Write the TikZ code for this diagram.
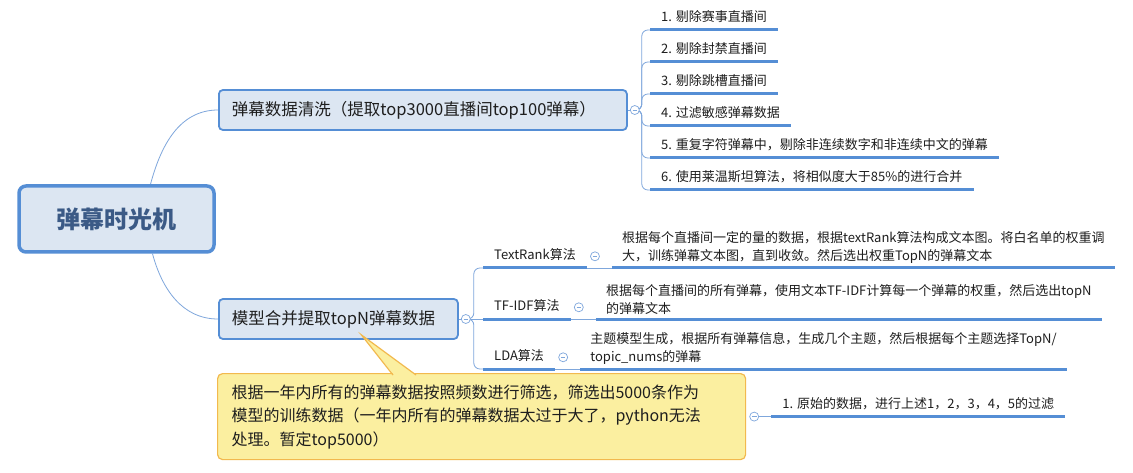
\documentclass[tikz,border=0pt]{standalone}
\usepackage{fontspec}
\setmainfont{Noto Sans CJK SC}
\usepackage{xcolor}
\usetikzlibrary{calc, positioning, backgrounds}

\definecolor{lineBlue}{HTML}{558ED5}
\definecolor{linkBlue}{HTML}{7FA7DC}
\definecolor{boxFill}{HTML}{DCE6F2}
\definecolor{rootText}{HTML}{3B5A86}
\definecolor{textDark}{HTML}{1E1E1E}
\definecolor{noteFill}{HTML}{FBEFA0}
\definecolor{noteEdge}{HTML}{F2B94E}

\tikzset{
  rootbox/.style={draw=lineBlue, line width=3.5pt, fill=boxFill, rounded corners=7pt,
    minimum width=195pt, minimum height=66pt, text=rootText,
    font=\fontsize{24}{28}\selectfont\bfseries},
  mainbox/.style={draw=lineBlue, line width=1.8pt, fill=boxFill, rounded corners=4pt,
    minimum height=40pt, inner xsep=13pt, align=left, text=textDark,
    font=\fontsize{16.5}{20}\selectfont},
  leaf/.style={anchor=south west, inner xsep=11pt, inner ysep=5pt, text height=10pt,
    text depth=3pt, text=textDark, font=\fontsize{13}{18.5}\selectfont},
  detail/.style={inner xsep=10pt, inner ysep=4pt, align=left, text=textDark,
    font=\fontsize{13}{18.5}\selectfont},
  notebox/.style={draw=noteEdge, line width=1.2pt, fill=noteFill, rounded corners=5pt,
    text width=500pt, minimum height=86pt, inner xsep=14pt, align=left, text=textDark,
    font=\fontsize{16}{23.5}\selectfont},
  underline/.style={draw=lineBlue, line width=3pt},
  link/.style={draw=linkBlue, line width=0.8pt},
  fold/.style={circle, draw=linkBlue, line width=0.7pt, fill=white, minimum size=9pt,
    inner sep=0pt, path picture={\draw[linkBlue, line width=0.7pt]
      ([xshift=-2.3pt]path picture bounding box.center) --
      ([xshift=2.3pt]path picture bounding box.center);}}
}

\begin{document}
\begin{tikzpicture}[x=1pt, y=-1pt]
  \useasboundingbox (0,0) rectangle (1133,473);

  % centre topic
  \node[rootbox] (root) at (116.5,219) {弹幕时光机};

  % main topics
  \node[mainbox, text width=382pt, anchor=west] (clean) at (218,110)
    {弹幕数据清洗（提取top3000直播间top100弹幕）};
  \node[mainbox, text width=213pt, anchor=west] (merge) at (218,319)
    {模型合并提取topN弹幕数据};
  \node[fold] (cleanfold) at ($(clean.east)+(7,0)$) {};
  \node[fold] (mergefold) at ($(merge.east)+(7,0)$) {};

  % cleaning steps
  \node[leaf] (stepA) at (650,30) {1. 剔除赛事直播间};
  \node[leaf] (stepB) at (650,62) {2. 剔除封禁直播间};
  \node[leaf] (stepC) at (650,94) {3. 剔除跳槽直播间};
  \node[leaf] (stepD) at (650,126) {4. 过滤敏感弹幕数据};
  \node[leaf] (stepE) at (650,158) {5. 重复字符弹幕中，剔除非连续数字和非连续中文的弹幕};
  \node[leaf] (stepF) at (650,190) {6. 使用莱温斯坦算法，将相似度大于85\%的进行合并};
  \draw[underline] (stepA.south west) -- (stepA.south east);
  \draw[underline] (stepB.south west) -- (stepB.south east);
  \draw[underline] (stepC.south west) -- (stepC.south east);
  \draw[underline] (stepD.south west) -- (stepD.south east);
  \draw[underline] (stepE.south west) -- (stepE.south east);
  \draw[underline] (stepF.south west) -- (stepF.south east);

  % algorithms
  \node[leaf] (rank) at (483,268) {TextRank算法};
  \node[leaf] (tfidf) at (483,319) {TF-IDF算法};
  \node[leaf] (lda) at (483,369) {LDA算法};
  \node[fold] (rankfold) at ($(rank.east)+(8,0)$) {};
  \node[fold] (tfidffold) at ($(tfidf.east)+(8,0)$) {};
  \node[fold] (ldafold) at ($(lda.east)+(8,0)$) {};
  \node[detail, right=25pt of rank.south east, anchor=south west] (rankinfo)
    {根据每个直播间一定的量的数据，根据textRank算法构成文本图。将白名单的权重调\\
     大，训练弹幕文本图，直到收敛。然后选出权重TopN的弹幕文本};
  \node[detail, right=25pt of tfidf.south east, anchor=south west] (tfidfinfo)
    {根据每个直播间的所有弹幕，使用文本TF-IDF计算每一个弹幕的权重，然后选出topN\\
     的弹幕文本};
  \node[detail, right=25pt of lda.south east, anchor=south west] (ldainfo)
    {主题模型生成，根据所有弹幕信息，生成几个主题，然后根据每个主题选择TopN/\\
     topic\_nums的弹幕};
  \draw[underline] (rank.south west) -- (rank.south east);
  \draw[underline] (tfidf.south west) -- (tfidf.south east);
  \draw[underline] (lda.south west) -- (lda.south east);
  \draw[underline] (rankinfo.south west) -- (rankinfo.south east);
  \draw[underline] (tfidfinfo.south west) -- (tfidfinfo.south east);
  \draw[underline] (ldainfo.south west) -- (ldainfo.south east);

  % note on the model topic
  \node[notebox, anchor=north west] (note) at (217,373)
    {根据一年内所有的弹幕数据按照频数进行筛选，筛选出5000条作为\\
     模型的训练数据（一年内所有的弹幕数据太过于大了，python无法\\
     处理。暂定top5000）};
  \coordinate (tip) at ($(merge.south)+(23,-5)$);
  \fill[noteFill] (tip) -- ($(note.north west)+(177,2)$) -- ($(note.north west)+(199,2)$) -- cycle;
  \draw[noteEdge, line width=1.2pt] ($(note.north west)+(176,2)$) -- (tip)
    -- ($(note.north west)+(199,2)$);
  \node[fold] (notefold) at ($(note.east)+(8,0)$) {};
  \node[leaf, right=17pt of notefold.center, anchor=south west] (raw)
    {1. 原始的数据，进行上述1，2，3，4，5的过滤};
  \draw[underline] (raw.south west) -- (raw.south east);

  % connectors
  \begin{scope}[on background layer]
    \fill[white] (0,0) rectangle (1133,473);
    \draw[link] ($(root.north)+(34,0)$) to[out=75, in=180] (clean.west);
    \draw[link] ($(root.south)+(36,0)$) to[out=-75, in=180] (merge.west);
    \draw[link] (clean.east) -- (cleanfold.center);
    \draw[link] (merge.east) -- (mergefold.center);
    \draw[link, rounded corners=6pt] (cleanfold.center) -- ++(7,0) |- (stepA.south west);
    \draw[link, rounded corners=6pt] (cleanfold.center) -- ++(7,0) |- (stepB.south west);
    \draw[link, rounded corners=6pt] (cleanfold.center) -- ++(7,0) |- (stepC.south west);
    \draw[link, rounded corners=6pt] (cleanfold.center) -- ++(7,0) |- (stepD.south west);
    \draw[link, rounded corners=6pt] (cleanfold.center) -- ++(7,0) |- (stepE.south west);
    \draw[link, rounded corners=6pt] (cleanfold.center) -- ++(7,0) |- (stepF.south west);
    \draw[link, rounded corners=6pt] (mergefold.center) -- ++(8,0) |- (rank.south west);
    \draw[link] (mergefold.center) -- (tfidf.south west);
    \draw[link, rounded corners=6pt] (mergefold.center) -- ++(8,0) |- (lda.south west);
    \draw[link] (rank.south east) -- (rankinfo.south west);
    \draw[link] (tfidf.south east) -- (tfidfinfo.south west);
    \draw[link] (lda.south east) -- (ldainfo.south west);
    \draw[link] (notefold.center) -- (raw.south west);
  \end{scope}
\end{tikzpicture}
\end{document}
